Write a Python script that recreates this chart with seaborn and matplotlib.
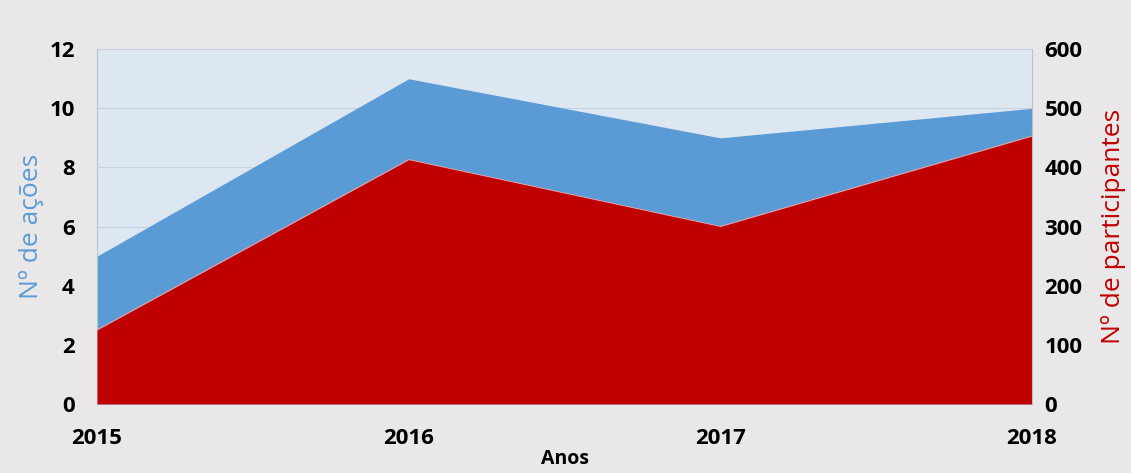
import matplotlib
matplotlib.use("Agg")
import matplotlib.pyplot as plt
import seaborn as sns
import pandas as pd

anos = [2015, 2016, 2017, 2018]
n_acoes = [5, 11, 9, 10]
n_participantes = [125, 413, 300, 453]
left_ticks = [0, 2, 4, 6, 8, 10, 12]
right_ticks = [0, 100, 200, 300, 400, 500, 600]

df = pd.DataFrame({"Anos": anos, "acoes": n_acoes, "participantes": n_participantes})

sns.set_theme(style="white")
plt.rcParams['font.family'] = ['Open Sans', 'DejaVu Sans']

BG = "#e9e7e7"
PLOT_BG = "#dde7f2"
BLUE = "#5b9bd5"
RED = "#c00000"

fig = plt.figure(figsize=(11.31, 4.73), dpi=100, facecolor=BG)
ax = fig.add_axes([0.0858, 0.146, 0.8267, 0.750])
ax.set_facecolor(PLOT_BG)

sns.lineplot(data=df, x="Anos", y="acoes", ax=ax, color=BLUE, linewidth=0)
ax.fill_between(df["Anos"], 0, df["acoes"], color=BLUE, linewidth=0, zorder=2)
ax.set_ylim(0, 12)
ax.set_xlim(2015, 2018)
ax.set_yticks(left_ticks)
ax.set_xticks(anos)
ax.grid(axis="y", color="#c8d2de", linewidth=0.8, zorder=0)
ax.set_axisbelow(True)
for s in ax.spines.values():
    s.set_visible(False)
ax.spines["left"].set_visible(True)
ax.spines["left"].set_color("#b8c4d2")
ax.spines["left"].set_linewidth(0.8)

ax2 = ax.twinx()
sns.lineplot(data=df, x="Anos", y="participantes", ax=ax2, color="#f0a0a0", linewidth=0.8)
ax2.fill_between(df["Anos"], 0, df["participantes"], color=RED, linewidth=0, zorder=2)
ax2.set_ylim(0, 600)
ax2.set_yticks(right_ticks)
for s in ax2.spines.values():
    s.set_visible(False)
ax2.spines["right"].set_visible(True)
ax2.spines["right"].set_color("#b8c4d2")
ax2.spines["right"].set_linewidth(0.8)

tick_font = dict(fontsize=16, fontweight="bold", color="black")
ax.set_yticklabels([str(t) for t in left_ticks], **tick_font)
ax2.set_yticklabels([str(t) for t in right_ticks], **tick_font)
ax.set_xticklabels([str(a) for a in anos], **tick_font)
ax.tick_params(axis="y", length=0, pad=16)
ax2.tick_params(axis="y", length=0, pad=9)
ax.tick_params(axis="x", length=0, pad=17)

ax.set_xlabel("Anos", fontsize=14, fontweight="bold", color="black", labelpad=0)
ax.set_ylabel("Nº de ações", fontsize=19, color=BLUE, labelpad=4)
ax2.set_ylabel("Nº de participantes", fontsize=19, color=RED, labelpad=13)

fig.savefig("out.png", dpi=100, facecolor=BG)
